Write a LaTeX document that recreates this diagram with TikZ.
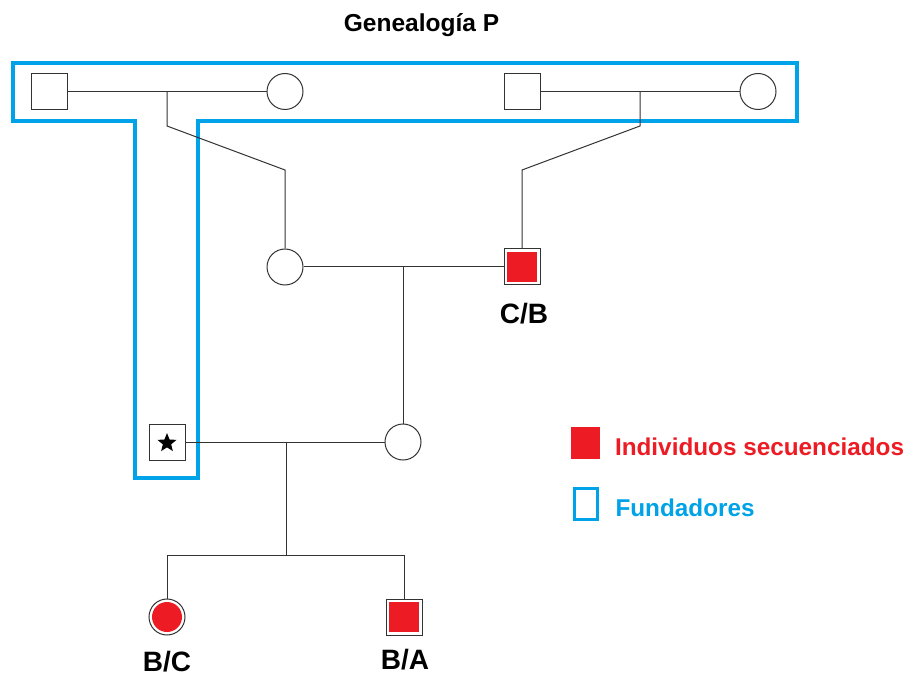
\documentclass[tikz,border=0pt]{standalone}
\usepackage{fontspec}
\setmainfont{Liberation Sans}
\usetikzlibrary{shapes.geometric}
\definecolor{seqred}{HTML}{ED1C24}
\definecolor{foundblue}{HTML}{00A2E8}
\definecolor{lineg}{HTML}{333333}
\tikzset{
  male/.style={draw=lineg, line width=1pt, fill=white, rectangle, minimum size=36pt, inner sep=0pt},
  female/.style={draw=lineg, line width=1pt, fill=white, circle, minimum size=36pt, inner sep=0pt},
  seqmale/.style={male, path picture={\fill[seqred] ([shift={(-15pt,-15pt)}]path picture bounding box.center) rectangle ([shift={(15pt,15pt)}]path picture bounding box.center);}},
  seqfemale/.style={female, path picture={\fill[seqred] (path picture bounding box.center) circle (15pt);}},
  link/.style={draw=lineg, line width=1pt},
  idlabel/.style={font=\fontsize{28}{32}\selectfont\bfseries},
  legendtext/.style={font=\fontsize{24.3}{28}\selectfont\bfseries, anchor=west},
  founders/.style={draw=foundblue, line width=3.5pt},
}
\begin{document}
\begin{tikzpicture}[x=1pt, y=-1pt]
\useasboundingbox (0,0) rectangle (908,676);
\fill[white] (0,0) rectangle (908,676);

% title
\node[font=\fontsize{24.5}{28}\selectfont\bfseries] (title) at (421.5,25) {Genealogía P};

% founders outline
\draw[founders] (13,63) -- (797,63) -- (797,121) -- (198,121) -- (198,478)
  -- (135,478) -- (135,121) -- (13,121) -- cycle;

% generation I
\node[male] (gp1) at (49.5,91.5) {};
\node[female] (gm1) at (285,91.5) {};
\node[male] (gp2) at (522,91.5) {};
\node[female] (gm2) at (758,91.5) {};

% generation II
\node[female] (m2) at (285,267) {};
\node[seqmale] (f2) at (522,267) {};
\node[idlabel] (lf2) at (524,314) {C/B};

% generation III
\node[male] (f3) at (167,442) {};
\node[star, star points=5, star point ratio=2.3, fill=black, minimum size=20pt, inner sep=0pt] (star) at (167,443) {};
\node[female] (m3) at (403,442) {};

% generation IV
\node[seqfemale] (c1) at (167,617) {};
\node[seqmale] (c2) at (404,617) {};
\node[idlabel] (lc1) at (167,662) {B/C};
\node[idlabel] (lc2) at (405,660) {B/A};

% junction points
\coordinate (j1) at (167,91.5);
\coordinate (k1) at (167,126);
\coordinate (k2) at (285,170);
\coordinate (j2) at (640,91.5);
\coordinate (k3) at (640,126);
\coordinate (k4) at (522,170);
\coordinate (j3) at (403,267);
\coordinate (j4) at (286,442);
\coordinate (s0) at (286,555);
\coordinate (s1) at (167,555);
\coordinate (s2) at (404,555);

% marriages and descent
\draw[link] (gp1.east) -- (gm1.west);
\draw[link] (j1) -- (k1) -- (k2) -- (m2.north);
\draw[link] (gp2.east) -- (gm2.west);
\draw[link] (j2) -- (k3) -- (k4) -- (f2.north);
\draw[link] (m2.east) -- (f2.west);
\draw[link] (j3) -- (m3.north);
\draw[link] (f3.east) -- (m3.west);
\draw[link] (j4) -- (s0);
\draw[link] (s1) -- (s2);
\draw[link] (s1) -- (c1.north);
\draw[link] (s2) -- (c2.north);

% legend
\node[fill=seqred, minimum width=29pt, minimum height=32pt, inner sep=0pt] (keyseq) at (585.5,443) {};
\node[legendtext, text=seqred] (keyseqt) at (611.5,447) {Individuos secuenciados};
\node[draw=foundblue, line width=3.5pt, minimum width=23pt, minimum height=31pt, inner sep=0pt] (keyfound) at (586,504) {};
\node[legendtext, text=foundblue] (keyfoundt) at (612,508) {Fundadores};
\end{tikzpicture}
\end{document}
